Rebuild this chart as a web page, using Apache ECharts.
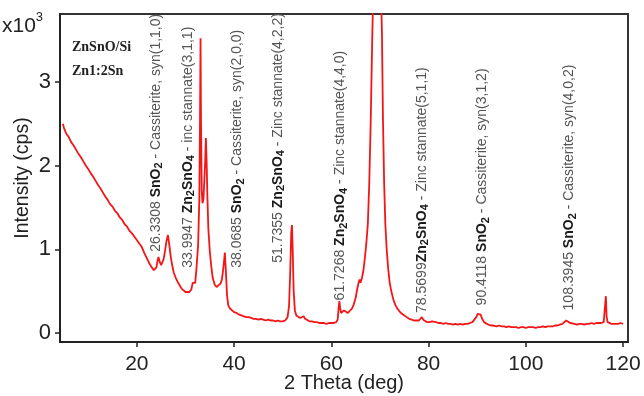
<!DOCTYPE html>
<html lang="en">
<head>
    <meta charset="UTF-8">
    <title>ZnSnO/Si XRD</title>
    <script src="https://cdn.jsdelivr.net/npm/echarts@6.0.0/dist/echarts.min.js"></script>
</head>
<body style="margin:0;background:#fff;">
<div class="container" style="width:644px;height:396px;"></div>
<script>
    // 2 theta (deg), intensity (x10^3 cps)
    let xrd = [
        [4.8,2.50],[5.0,2.45],[5.25,2.44],[5.5,2.38],[5.75,2.40],[6.0,2.34],[6.25,2.35],[6.5,2.28],[6.75,2.30],
        [7.0,2.24],[7.25,2.26],[7.5,2.19],[7.75,2.21],[8.0,2.14],[8.25,2.16],[8.5,2.10],[8.75,2.11],[9.0,2.05],
        [9.25,2.07],[9.5,2.00],[9.75,2.02],[10.0,1.96],[10.25,1.97],[10.5,1.91],[10.75,1.93],[11.0,1.87],[11.25,1.88],
        [11.5,1.82],[11.75,1.84],[12.0,1.77],[12.25,1.79],[12.5,1.73],[12.75,1.74],[13.0,1.68],[13.25,1.70],[13.5,1.63],
        [13.75,1.65],[14.0,1.59],[14.25,1.60],[14.5,1.54],[14.75,1.56],[15.0,1.51],[15.25,1.52],[15.5,1.46],[15.75,1.48],
        [16.0,1.43],[16.25,1.44],[16.5,1.38],[16.75,1.40],[17.0,1.35],[17.25,1.36],[17.5,1.30],[17.75,1.32],[18.0,1.27],
        [18.25,1.28],[18.5,1.22],[18.75,1.24],[19.0,1.19],[19.25,1.20],[19.5,1.15],[19.75,1.16],[20.0,1.11],[20.25,1.12],
        [20.5,1.07],[20.75,1.08],[21.0,1.03],[21.25,1.02],[21.5,0.96],[21.75,0.96],[22.0,0.90],[22.25,0.90],[22.5,0.84],
        [22.75,0.84],[23.0,0.79],[23.25,0.80],[23.5,0.75],[23.75,0.76],[24.0,0.78],[24.25,0.86],[24.45,0.91],[24.7,0.85],
        [25.0,0.81],[25.25,0.82],[25.5,0.88],[25.8,0.98],[26.1,1.10],[26.4,1.17],[26.7,1.04],[27.0,0.90],[27.3,0.80],
        [27.6,0.72],[28.0,0.66],[28.4,0.61],[28.8,0.57],[29.2,0.53],[29.6,0.51],[30.0,0.49],[30.4,0.48],[30.8,0.49],
        [31.2,0.52],[31.5,0.60],[31.7,0.62],[32.0,0.60],[32.3,0.80],[32.6,1.05],[32.85,1.60],[33.0,2.60],[33.1,3.52],
        [33.2,2.50],[33.35,1.70],[33.5,1.55],[33.7,1.60],[33.9,1.85],[34.05,2.05],[34.2,2.33],[34.35,2.05],[34.5,1.65],
        [34.7,1.25],[35.0,0.98],[35.3,0.80],[35.6,0.66],[36.0,0.58],[36.4,0.55],[36.8,0.55],[37.2,0.59],[37.5,0.64],
        [37.8,0.78],[38.1,0.96],[38.3,0.75],[38.55,0.45],[38.8,0.33],[39.2,0.29],[39.6,0.27],[40.0,0.25],[40.5,0.24],
        [41.0,0.22],[41.5,0.21],[42.0,0.20],[42.5,0.19],[43.0,0.19],[43.5,0.18],[44.0,0.17],[44.5,0.17],[45.0,0.16],
        [45.5,0.17],[46.0,0.16],[46.5,0.15],[47.0,0.16],[47.5,0.15],[48.0,0.15],[48.5,0.14],[49.0,0.15],[49.5,0.14],
        [50.0,0.14],[50.5,0.15],[51.0,0.19],[51.3,0.32],[51.55,0.75],[51.75,1.20],[51.9,1.29],[52.05,1.00],[52.25,0.50],
        [52.5,0.27],[52.8,0.21],[53.2,0.19],[53.6,0.18],[54.0,0.18],[54.3,0.20],[54.6,0.17],[55.0,0.15],[55.5,0.14],
        [56.0,0.14],[56.5,0.13],[57.0,0.13],[57.5,0.12],[58.0,0.12],[58.5,0.12],[59.0,0.11],[59.5,0.12],[60.0,0.12],
        [60.5,0.12],[61.0,0.13],[61.3,0.16],[61.5,0.30],[61.65,0.38],[61.8,0.30],[62.0,0.24],[62.3,0.26],[62.6,0.27],
        [63.0,0.25],[63.4,0.24],[63.8,0.26],[64.2,0.29],[64.6,0.34],[65.0,0.42],[65.3,0.52],[65.6,0.60],[65.8,0.64],
        [66.0,0.60],[66.3,0.66],[66.6,0.75],[66.9,0.90],[67.2,1.08],[67.5,1.30],[67.8,1.80],[68.1,2.54],[68.4,3.50],
        [68.7,4.30],[69.0,4.80],[69.4,5.00],[69.8,4.80],[70.1,4.30],[70.4,3.60],[70.6,2.60],[70.85,1.80],[71.1,1.30],
        [71.4,0.98],[71.7,0.76],[72.0,0.60],[72.4,0.48],[72.8,0.39],[73.2,0.33],[73.6,0.29],[74.0,0.26],[74.5,0.23],
        [75.0,0.21],[75.5,0.19],[76.0,0.17],[76.5,0.16],[77.0,0.15],[77.5,0.15],[78.0,0.15],[78.3,0.17],[78.6,0.19],
        [78.9,0.16],[79.3,0.14],[79.7,0.13],[80.2,0.13],[80.7,0.14],[81.1,0.15],[81.5,0.13],[82.0,0.12],[82.5,0.12],
        [83.0,0.11],[83.5,0.12],[84.0,0.11],[84.5,0.11],[85.0,0.10],[85.5,0.11],[86.0,0.10],[86.5,0.11],[87.0,0.10],
        [87.5,0.11],[88.0,0.11],[88.5,0.12],[89.0,0.13],[89.4,0.15],[89.8,0.19],[90.1,0.23],[90.4,0.25],[90.7,0.22],
        [91.0,0.17],[91.4,0.13],[91.8,0.11],[92.3,0.10],[92.8,0.09],[93.3,0.09],[94.0,0.08],[94.5,0.09],[95.0,0.08],
        [95.5,0.08],[96.0,0.07],[96.5,0.08],[97.0,0.07],[97.5,0.07],[98.0,0.07],[98.5,0.06],[99.0,0.07],[99.5,0.07],
        [100.0,0.06],[100.5,0.07],[101.0,0.07],[101.5,0.07],[102.0,0.06],[102.5,0.07],[103.0,0.07],[103.5,0.08],
        [104.0,0.07],[104.5,0.08],[105.0,0.08],[105.5,0.08],[106.0,0.09],[106.5,0.09],[107.0,0.10],[107.5,0.11],
        [107.9,0.13],[108.3,0.15],[108.7,0.14],[109.1,0.12],[109.5,0.11],[110.0,0.11],[110.5,0.10],[111.0,0.11],
        [111.5,0.11],[112.0,0.10],[112.5,0.11],[113.0,0.11],[113.5,0.12],[114.0,0.11],[114.5,0.12],[115.0,0.12],
        [115.5,0.12],[116.0,0.13],[116.3,0.14],[116.45,0.44],[116.6,0.20],[116.8,0.13],[117.2,0.12],[117.6,0.11],
        [118.0,0.12],[118.5,0.11],[119.0,0.11],[119.5,0.12],[120.0,0.11]
    ];

    let xTicks = [20, 40, 60, 80, 100, 120];
    let yTicks = [0, 1, 2, 3];

    // peak labels: text and where the text starts (data units)
    let peakLabels = [
        '{n|26.3308 }{f|SnO}{s|2}{n| - Cassiterite, syn(1,1,0)}',
        '{n|33.9947 }{f|Zn}{s|2}{f|SnO}{s|4}{n| - inc stannate(3,1,1)}',
        '{n|38.0685 }{f|SnO}{s|2}{n| - Cassiterite, syn(2,0,0)}',
        '{n|51.7355 }{f|Zn}{s|2}{f|SnO}{s|4}{n| - Zinc stannate(4,2,2)}',
        '{n|61.7268 }{f|Zn}{s|2}{f|SnO}{s|4}{n| - Zinc stannate(4,4,0)}',
        '{n|78.5699}{f|Zn}{s|2}{f|SnO}{s|4}{n| - Zinc stannate(5,1,1)}',
        '{n|90.4118 }{f|SnO}{s|2}{n| - Cassiterite, syn(3,1,2)}',
        '{n|108.3945 }{f|SnO}{s|2}{n| - Cassiterite, syn(4,0,2)}'
    ];
    let labelAt = [
        [23.9, 0.97], [30.5, 0.78], [40.7, 0.78], [49.0, 0.84],
        [61.8, 0.39], [78.6, 0.24], [91.0, 0.33], [108.9, 0.27]
    ];

    let sans = '"Liberation Sans", Arial, sans-serif';

    let container = document.querySelector('.container');
    let mycharts = echarts.init(container);

    let marks = peakLabels.map((text, i) => ({
        coord: labelAt[i],
        label: {formatter: text}
    }));

    let option = {
        animation: false,
        backgroundColor: '#fff',
        grid: {
            left: 60, right: 16, top: 14, bottom: 54,
            outerBoundsMode: 'none',
            containLabel: false,
            show: true, borderColor: '#333', borderWidth: 2
        },
        xAxis: {
            type: 'value',
            min: 4.2,
            max: 121,
            name: '2 Theta (deg)',
            nameLocation: 'middle',
            nameGap: 31,
            nameMoveOverlap: false,
            nameTextStyle: {fontSize: 20, color: '#222', fontFamily: sans},
            axisLine: {onZero: false, lineStyle: {color: '#222', width: 2}},
            axisTick: {customValues: xTicks, length: 5, lineStyle: {color: '#222', width: 1.5}},
            axisLabel: {customValues: xTicks, fontSize: 21, color: '#222', margin: 12, fontFamily: sans},
            splitLine: {show: false}
        },
        yAxis: {
            type: 'value',
            min: -0.107,
            max: 3.81,
            name: 'Intensity (cps)',
            nameLocation: 'middle',
            nameGap: 27,
            nameMoveOverlap: false,
            nameTextStyle: {fontSize: 19.5, color: '#222', fontFamily: sans},
            axisLine: {lineStyle: {color: '#222', width: 2}},
            axisTick: {customValues: yTicks, length: 5, lineStyle: {color: '#222', width: 1.5}},
            axisLabel: {customValues: yTicks, fontSize: 22, color: '#222', margin: 9, fontFamily: sans},
            splitLine: {show: false}
        },
        graphic: [
            {
                type: 'text', left: 2, top: 11,
                style: {
                    text: '{a|x10}{b|3}',
                    rich: {
                        a: {fontSize: 21, fill: '#222', fontFamily: sans, lineHeight: 26, verticalAlign: 'bottom'},
                        b: {fontSize: 13, fill: '#222', fontFamily: sans, lineHeight: 13, verticalAlign: 'top'}
                    }
                }
            },
            {
                type: 'text', left: 72, top: 40,
                style: {text: 'ZnSnO/Si', font: 'bold 14px "Liberation Serif", serif', fill: '#222'}
            },
            {
                type: 'text', left: 72, top: 64,
                style: {text: 'Zn1:2Sn', font: 'bold 14px "Liberation Serif", serif', fill: '#222'}
            }
        ],
        series: [{
            type: 'line',
            data: xrd,
            showSymbol: false,
            clip: true,
            lineStyle: {color: '#f41616', width: 1.8},
            markPoint: {
                symbol: 'circle',
                symbolSize: 1,
                itemStyle: {color: 'rgba(0,0,0,0)'},
                label: {
                    show: true,
                    position: 'inside',
                    rotate: 90,
                    align: 'left',
                    verticalAlign: 'middle',
                    rich: {
                        n: {fontSize: 14, color: '#555', fontFamily: sans, lineHeight: 18},
                        f: {fontSize: 14, color: '#1a1a1a', fontWeight: 'bold', fontFamily: sans, lineHeight: 18},
                        s: {fontSize: 11, color: '#1a1a1a', fontWeight: 'bold', fontFamily: sans, lineHeight: 11, verticalAlign: 'bottom'}
                    }
                },
                data: marks
            }
        }]
    };

    mycharts.setOption(option);
</script>
</body>
</html>
